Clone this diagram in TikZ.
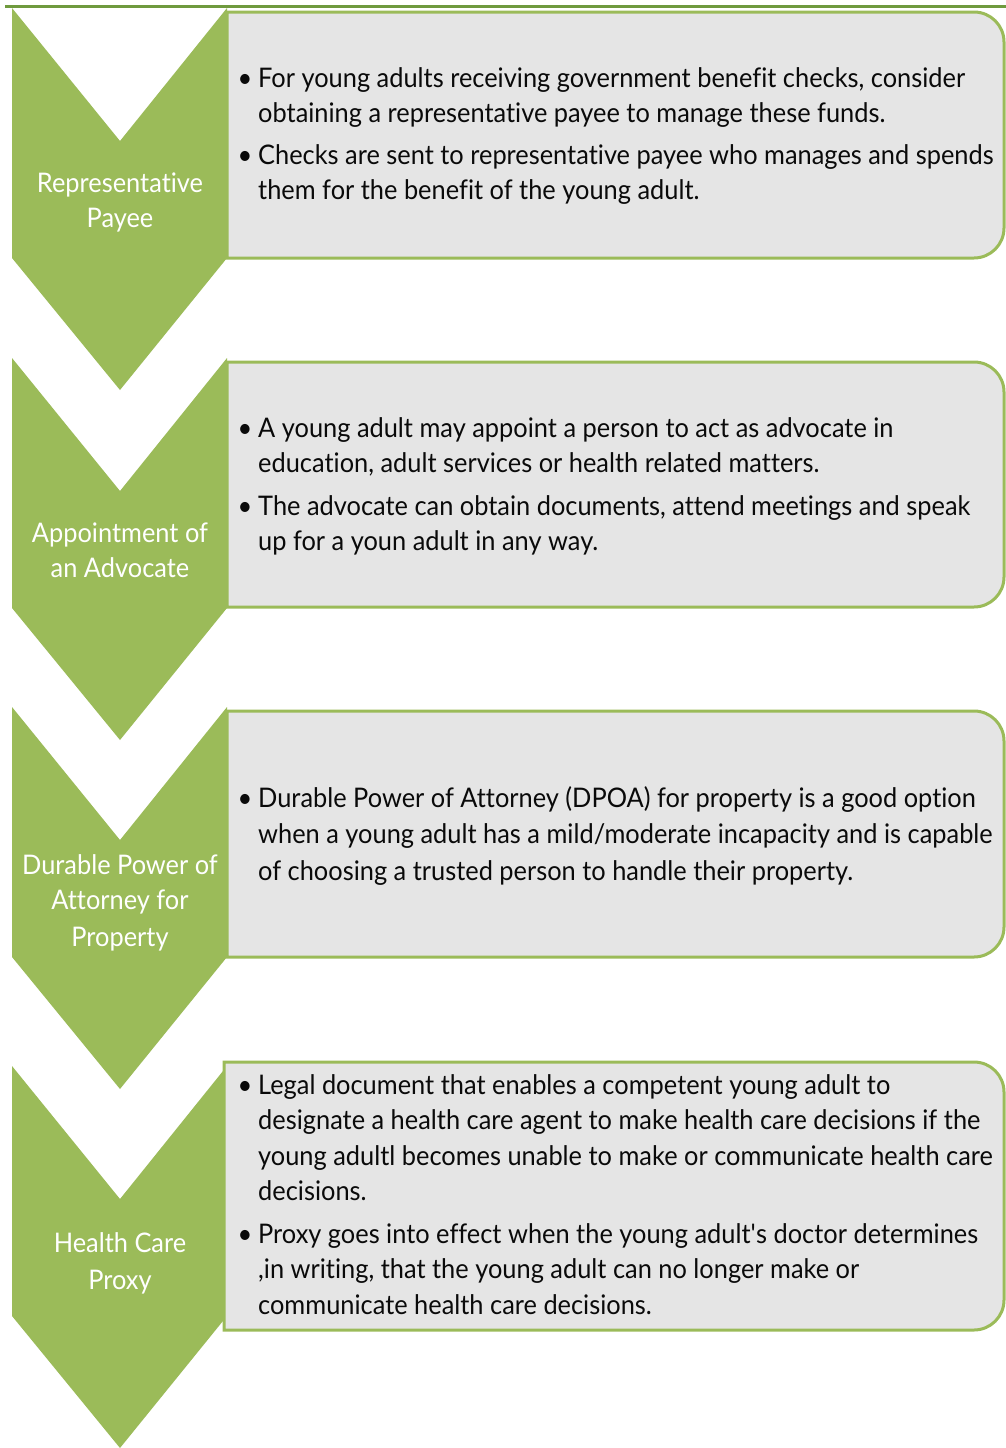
\documentclass[tikz,border=0pt]{standalone}
\usepackage{fontspec}
\setmainfont[FakeStretch=0.94,Ligatures={TeX,NoCommon}]{Lato}
\definecolor{cgreen}{HTML}{9BBB59}
\definecolor{cdark}{HTML}{6F9A3E}
\definecolor{cgray}{HTML}{E5E5E5}
\definecolor{ctext}{HTML}{0A0A0A}
\begin{document}
\begin{tikzpicture}[x=1pt,y=-1pt,
  chev/.style={fill=cgreen,draw=none},
  infobox/.style={fill=cgray,draw=cgreen,line width=3pt},
  txt/.style={anchor=base west,inner sep=0pt,font=\fontsize{27}{32}\selectfont,text=ctext},
  bul/.style={anchor=base,inner sep=0pt,font=\fontsize{27}{32}\selectfont,text=ctext},
  lbl/.style={anchor=base,inner sep=0pt,font=\fontsize{27}{32}\selectfont,text=white}]
\useasboundingbox (0,0) rectangle (1006,1448);
% top rule
\draw[cdark,line width=3pt] (5,6) -- (1006,6);
% chevrons
\foreach \t/\n in {8/c1,358/c2,707/c3,1066/c4}{
  \fill[chev] (12,\t) -- (120,\t+133) -- (227,\t) -- (227,\t+250) -- (120,\t+382) -- (12,\t+250) -- cycle;
}
% boxes
\draw[infobox] (227,12) [rounded corners=30pt] -- (1004,12) -- (1004,258) [sharp corners] -- (227,258) -- cycle;
\draw[infobox] (227,362) [rounded corners=30pt] -- (1004,362) -- (1004,607) [sharp corners] -- (227,607) -- cycle;
\draw[infobox] (227,711) [rounded corners=30pt] -- (1004,711) -- (1004,957) [sharp corners] -- (227,957) -- cycle;
\draw[infobox] (224,1062) [rounded corners=30pt] -- (1004,1062) -- (1004,1330) [sharp corners] -- (224,1330) -- cycle;
% labels
\node[lbl] (l1a) at (120,192) {Representative};
\node[lbl] (l1b) at (120,227) {Payee};
\node[lbl] (l2a) at (120,542) {Appointment of};
\node[lbl] (l2b) at (120,577) {an Advocate};
\node[lbl] (l3a) at (120,874) {Durable Power of};
\node[lbl] (l3b) at (120,909) {Attorney for};
\node[lbl] (l3c) at (120,946) {Property};
\node[lbl] (l4a) at (120,1252) {Health Care};
\node[lbl] (l4b) at (120,1289) {Proxy};
% box 1
\node[bul] (b1d1) at (245,87) {•};
\node[txt] (b1a) at (258,87) {For young adults receiving government benefit checks, consider};
\node[txt] (b1b) at (258,122) {obtaining a representative payee to manage these funds.};
\node[bul] (b1d2) at (245,164) {•};
\node[txt] (b1c) at (258,164) {Checks are sent to representative payee who manages and spends};
\node[txt] (b1e) at (258,199) {them for the benefit of the young adult.};
% box 2
\node[bul] (b2d1) at (245,437) {•};
\node[txt] (b2a) at (258,437) {A young adult may appoint a person to act as advocate in};
\node[txt] (b2b) at (258,472) {education, adult services or health related matters.};
\node[bul] (b2d2) at (245,515) {•};
\node[txt] (b2c) at (258,515) {The advocate can obtain documents, attend meetings and speak};
\node[txt] (b2e) at (258,550) {up for a youn adult in any way.};
% box 3
\node[bul] (b3d1) at (245,807) {•};
\node[txt] (b3a) at (258,807) {Durable Power of Attorney (DPOA) for property is a good option};
\node[txt] (b3b) at (258,843) {when a young adult has a mild/moderate incapacity and is capable};
\node[txt] (b3c) at (258,880) {of choosing a trusted person to handle their property.};
% box 4
\node[bul] (b4d1) at (245,1094) {•};
\node[txt] (b4a) at (258,1094) {Legal document that enables a competent young adult to};
\node[txt] (b4b) at (258,1129) {designate a health care agent to make health care decisions if the};
\node[txt] (b4c) at (258,1165) {young adultl becomes unable to make or communicate health care};
\node[txt] (b4e) at (258,1200) {decisions.};
\node[bul] (b4d2) at (245,1243) {•};
\node[txt] (b4f) at (258,1243) {Proxy goes into effect when the young adult\textquotesingle s doctor determines};
\node[txt] (b4g) at (258,1278) {,in writing, that the young adult can no longer make or};
\node[txt] (b4h) at (258,1314) {communicate health care decisions.};
\end{tikzpicture}
\end{document}
